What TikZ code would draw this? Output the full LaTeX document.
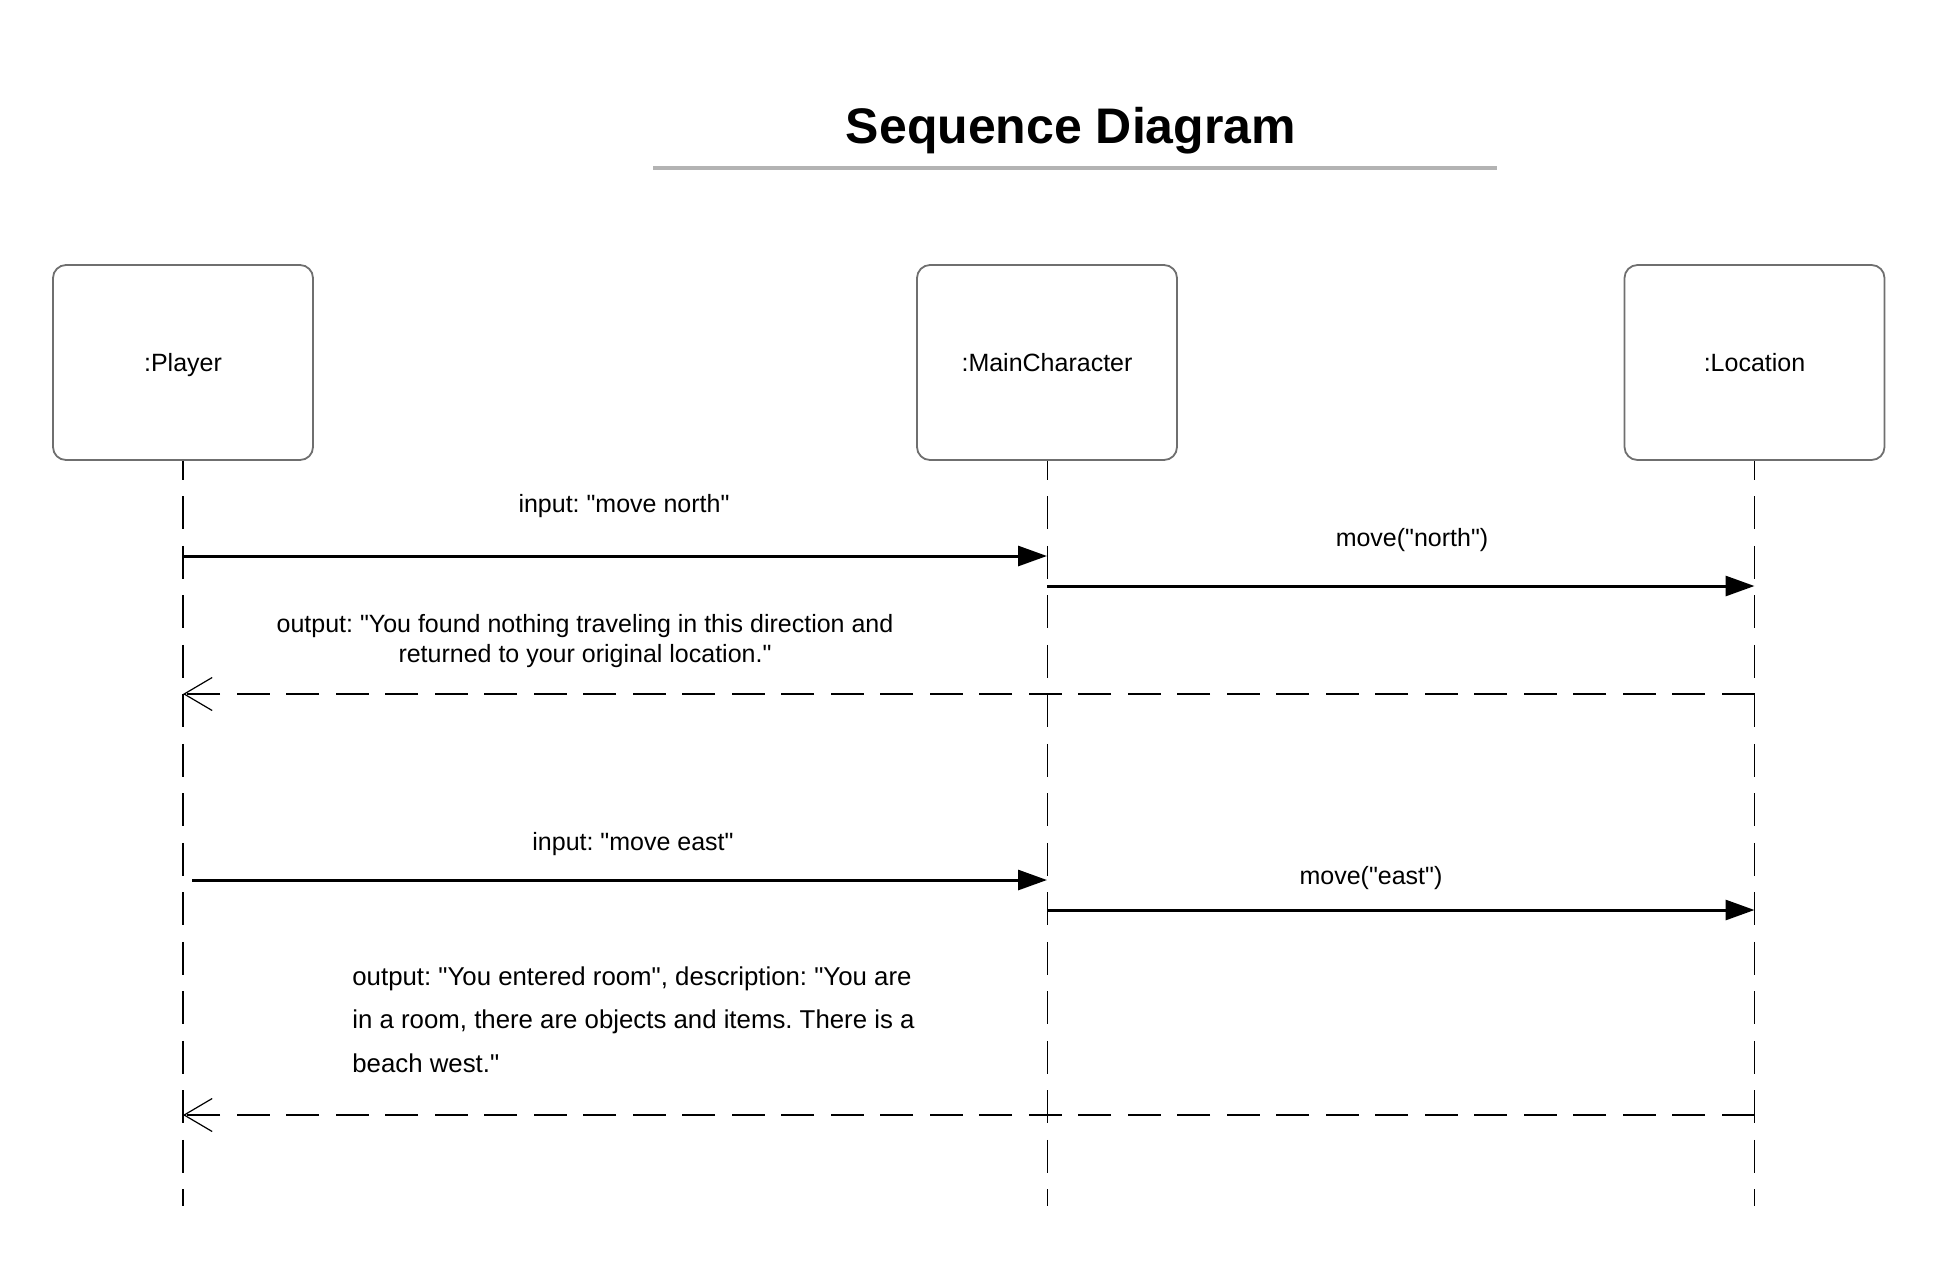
\documentclass[tikz,border=0pt]{standalone}
\usepackage{fontspec}
\setmainfont{Liberation Sans}[Ligatures=TeXReset]
\usetikzlibrary{arrows.meta}
\usetikzlibrary{positioning}

\definecolor{boxgray}{HTML}{6F6F6F}
\definecolor{rulegray}{HTML}{B3B3B3}

\frenchspacing

\begin{document}
\begin{tikzpicture}[
      x=0.5pt, y=-0.5pt,
      obj/.style={draw=boxgray, line width=0.9pt, rounded corners=6.5pt,
        minimum width=130pt, minimum height=97.5pt, text depth=0pt,
        font=\fontsize{12.5}{15}\selectfont},
      life/.style={dash pattern=on 16.5pt off 8.25pt, dash phase=7pt, line width=0.5pt},
      msg/.style={line width=1.5pt, -{Triangle[length=14.5pt,width=10pt]}},
      ret/.style={line width=1pt, dash pattern=on 16.5pt off 8.25pt,
        -{Straight Barb[length=14pt,width=16.5pt,line width=0.6pt]}},
      mlabel/.style={font=\fontsize{12.5}{15}\selectfont, inner sep=0pt},
    ]
        \useasboundingbox (0,0) rectangle (1949,1271);

        % title
        \node[font=\bfseries\fontsize{25}{30}\selectfont] (title) at (1071,131) {Sequence Diagram};
        \draw[rulegray, line width=1.6pt] (653,168) -- (1497,168);

        % objects and lifelines
        \node[obj] (player) at (183,362.5) {:Player};
        \node[obj] (mainchar) at (1047,362.5) {:MainCharacter};
        \node[obj] (location) at (1754.5,362.5) {:Location};

        \coordinate (player end) at (player.south |- 0,1206);
        \coordinate (mainchar end) at (mainchar.south |- 0,1206);
        \coordinate (location end) at (location.south |- 0,1206);

        \draw[life, line width=1pt] (player.south) -- (player end);
        \draw[life] (mainchar.south) -- (mainchar end);
        \draw[life] (location.south) -- (location end);

        % move north
        \coordinate (in1 a) at (player.south |- 0,556);
        \coordinate (in1 b) at (mainchar.south |- 0,556);
        \coordinate (mv1 a) at (mainchar.south |- 0,586);
        \coordinate (mv1 b) at (location.south |- 0,586);
        \coordinate (out1 a) at (location.south |- 0,694);
        \coordinate (out1 b) at (player.south |- 0,694);

        \draw[msg] (in1 a) -- (in1 b);
        \node[mlabel, anchor=base] (in1 label) at (624,512) {input: "move north"};
        \draw[msg] (mv1 a) -- (mv1 b);
        \node[mlabel, anchor=base] (mv1 label) at (1412,546) {move("north")};
        \draw[ret] (out1 a) -- (out1 b);
        \node[mlabel, align=center] (out1 label) at (585,641.5)
            {output: "You found nothing traveling in this direction and\\
             returned to your original location."};

        % move east
        \coordinate (in2 a) at (192,880);
        \coordinate (in2 b) at (mainchar.south |- 0,880);
        \coordinate (mv2 a) at (mainchar.south |- 0,910);
        \coordinate (mv2 b) at (location.south |- 0,910);
        \coordinate (out2 a) at (location.south |- 0,1115);
        \coordinate (out2 b) at (player.south |- 0,1115);

        \draw[msg] (in2 a) -- (in2 b);
        \node[mlabel, anchor=base] (in2 label) at (633,850) {input: "move east"};
        \draw[msg] (mv2 a) -- (mv2 b);
        \node[mlabel, anchor=base] (mv2 label) at (1371,884) {move("east")};
        \draw[ret] (out2 a) -- (out2 b);
        \node[mlabel, align=left, anchor=west,
              font=\fontsize{12.9}{21.75}\selectfont] (out2 label) at (352,1019.5)
            {output: "You entered room", description: "You are\\
             in a room, there are objects and items. There is a\\
             beach west."};
    \end{tikzpicture}
\end{document}
